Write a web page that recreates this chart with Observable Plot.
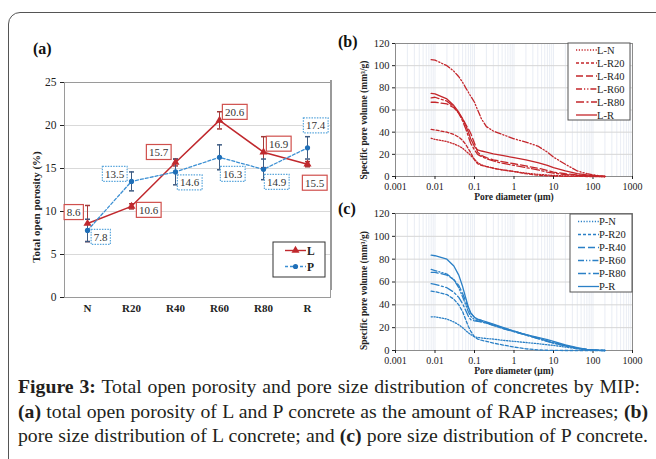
<!DOCTYPE html>
<html><head><meta charset="utf-8">
<script src="https://cdn.jsdelivr.net/npm/d3@7"></script>
<script src="https://cdn.jsdelivr.net/npm/@observablehq/plot@0.6"></script>
<style>
html,body{margin:0;padding:0;background:#fff;overflow:hidden;}
#root{position:relative;width:656px;height:459px;overflow:hidden;font-family:"Liberation Serif",serif;color:#222;}
.cap{position:absolute;left:18px;height:24px;line-height:24px;color:#231f20;text-align:justify;text-align-last:justify;white-space:nowrap;}
.panel{position:absolute;font-weight:bold;font-size:16px;color:#111;}
</style></head><body><div id="root"></div>
<script>
// ---------- data: panel (a) ----------
const categories = ["N", "R20", "R40", "R60", "R80", "R"];
const porosityL = [8.6, 10.6, 15.7, 20.6, 16.9, 15.5];
const porosityP = [7.8, 13.5, 14.6, 16.3, 14.9, 17.4];
const errorL = [2.1, 0.3, 0.4, 1.0, 1.8, 0.3];
const errorP = [1.3, 1.1, 1.5, 1.45, 1.2, 1.3];
const yTicksA = [0, 5, 10, 15, 20, 25];
const seriesA = ["L", "P"];

// ---------- data: panels (b) and (c) ----------
const diameters = [0.008, 0.01, 0.02, 0.03, 0.04, 0.05, 0.06, 0.07, 0.08, 0.1, 0.12, 0.15, 0.2, 0.3, 0.5, 1, 2, 4, 7, 10, 20, 40, 70, 100, 150, 200];
const namesL = ["L-N", "L-R20", "L-R40", "L-R60", "L-R80", "L-R"];
const curveLN   = [34.5, 33.5, 31.5, 29.5, 27.5, 25.5, 23, 21, 19, 15.5, 12.5, 10.5, 9, 7.5, 6, 4.5, 3, 2, 1.3, 1, 0.5, 0.3, 0.2, 0.1, 0, 0];
const curveLR20 = [42.5, 42, 40, 38, 35.5, 32.5, 29, 25, 21.5, 15, 11.5, 10, 9, 7.5, 6, 4.5, 2.5, 1.2, 0.6, 0.4, 0.2, 0.1, 0, 0, 0, 0];
const curveLR40 = [67, 67, 65.5, 62, 57, 52, 47, 43, 39, 30, 22, 19, 17, 15, 13.5, 11.5, 9.5, 7.5, 5.5, 4, 2.5, 1.5, 0.8, 0.5, 0.2, 0];
const curveLR60 = [105.5, 105, 100, 95, 90, 85, 80, 76, 72.5, 67, 60, 52, 45, 41, 38, 34, 31, 27.5, 22, 17.5, 11, 5, 2.5, 1.5, 0.5, 0];
const curveLR80 = [71, 71.5, 68, 63, 57, 50, 43, 36, 30, 24, 20, 18, 16, 14, 12, 10, 8, 6, 4, 3, 1.8, 1, 0.5, 0.3, 0.1, 0];
const curveLR   = [75, 74.5, 70, 64, 58, 52, 46, 40, 34, 27, 24, 23, 22, 20.5, 19, 17, 15, 12.5, 10, 8, 5, 2.5, 1.5, 1, 0.3, 0];
const namesP = ["P-N", "P-R20", "P-R40", "P-R60", "P-R80", "P-R"];
const curvePN   = [29.5, 29.5, 27.5, 25, 22.5, 20, 17.5, 15.5, 14, 12, 11.5, 11, 10.5, 10, 9, 8, 7, 6, 5, 4.5, 3, 1.5, 0.7, 0.3, 0, 0];
const curvePR20 = [52, 51.5, 49, 45, 40, 34, 27, 21, 17, 12, 10, 9, 8, 6.5, 5, 3, 1.5, 0.5, 0.2, 0.1, 0, 0, 0, 0, 0, 0];
const curvePR40 = [68.5, 68.5, 66, 62, 57, 50, 43, 37, 33, 29, 27, 26, 24.5, 22.5, 20, 17, 14, 11, 8.5, 7, 4.5, 2, 1, 0.5, 0.1, 0];
const curvePR60 = [71, 70, 67, 62, 55, 47, 40, 34, 30, 27, 26, 25, 24, 22, 19.5, 16.5, 13.5, 10.5, 8, 6.5, 4, 2, 1, 0.5, 0.1, 0];
const curvePR80 = [58.5, 58, 55, 51, 46.5, 41, 35, 30, 27, 26, 25.5, 25, 24, 22, 19.5, 16.5, 13.5, 10.5, 8, 6.5, 4, 1.8, 0.8, 0.4, 0.1, 0];
const curvePR   = [83.5, 83, 80, 74, 66, 56, 46, 38, 33, 29, 27.5, 26.5, 25, 23, 20.5, 17, 14, 11.5, 9.5, 8, 5, 2.5, 1, 0.5, 0.1, 0];
const xTicksPSD = [0.001, 0.01, 0.1, 1, 10, 100, 1000];
const yTicksPSD = [0, 20, 40, 60, 80, 100, 120];

// ---------- texts ----------
const yTitleA = "Total open porosity (%)";
const yTitlePSD = "Specific pore volume (mm\u00b3/g)";
const xTitlePSD = "Pore diameter (\u00b5m)";
const captionLines = [
  [["Figure 3:", true], [" Total open porosity and pore size distribution of concretes by MIP:", false]],
  [["(a)", true], [" total open porosity of L and P concrete as the amount of RAP increases; ", false], ["(b)", true]],
  [["pore size distribution of L concrete; and ", false], ["(c)", true], [" pore size distribution of P concrete.", false]]
];

// ---------- styles / layout ----------
const RED = "#c0282d", RED_ERR = "#a33a3a", BLUE = "#3b8fd3", BLUE_DOT = "#1f6fb8", BLUE_ERR = "#3d5b82";
const PSD_RED = "#c4262b", PSD_BLUE = "#2b80c6";
const dashes = ["1.2,1.6", "3,2", "7,3", "6,2,1.2,2,1.2,2", "8,2.5,2,2.5", null];
const offL = [[-14, -11], [17, 4], [-17, -10], [15, -8], [15, -8], [7, 19]];
const offP = [[13, 7], [-17, -7], [14, 11], [13, 17], [13, 13], [8, -22]];
const FONT = "Liberation Serif";

const root = document.getElementById("root");
function place(el, left, top) { el.style.position = "absolute"; el.style.left = left + "px"; el.style.top = top + "px"; root.appendChild(el); return el; }
function div(cls, html, left, top) { const d = document.createElement("div"); d.className = cls; d.innerHTML = html; return place(d, left, top); }

// frame border
const frame = document.createElement("div");
Object.assign(frame.style, {border: "1.5px solid #555", borderRadius: "12px", width: "720px", height: "520px", boxSizing: "border-box"});
place(frame, 8, 12);
// separator line at right of panel (a)
const sep = document.createElement("div");
Object.assign(sep.style, {width: "2px", height: "210px", background: "#9a9a9a"});
place(sep, 330, 80);

const capSymbol = {draw(ctx, size) { const r = Math.sqrt(size / Math.PI); ctx.moveTo(-r, 0); ctx.lineTo(r, 0); }};

// ---------- panel (a) ----------
const rowsL = categories.map((c, i) => ({c, v: porosityL[i], e: errorL[i]}));
const rowsP = categories.map((c, i) => ({c, v: porosityP[i], e: errorP[i]}));
const labelMarks = [];
rowsL.forEach((r, i) => labelMarks.push(Plot.text([r], {x: "c", y: "v", text: d => d.v.toFixed(1), dx: offL[i][0], dy: offL[i][1], fill: "#333", fontSize: 11, ariaDescription: "lblL"})));
rowsP.forEach((r, i) => labelMarks.push(Plot.text([r], {x: "c", y: "v", text: d => d.v.toFixed(1), dx: offP[i][0], dy: offP[i][1], fill: "#333", fontSize: 11, ariaDescription: "lblP"})));

const plotA = Plot.plot({
  width: 330, height: 260, marginLeft: 54, marginRight: 10, marginTop: 12, marginBottom: 33,
  x: {type: "point", domain: categories, padding: 0.5},
  y: {domain: [0, 25]},
  style: {fontFamily: FONT, fontSize: "11px", color: "#222", background: "transparent", overflow: "visible"},
  marks: [
    Plot.gridY(yTicksA.slice(1, -1), {stroke: "#d9d9d9", strokeOpacity: 1}),
    Plot.frame({stroke: "#9a9a9a"}),
    Plot.axisY(yTicksA, {tickSize: 4, tickPadding: 4, label: null, fontSize: 11.5}),
    Plot.axisX({tickSize: 0, tickPadding: 7, label: null, fontWeight: "bold", fontSize: 11}),
    Plot.text([yTitleA], {frameAnchor: "left", textAnchor: "middle", text: d => d, rotate: -90, dx: -28, dy: 17, fontWeight: "bold", fontSize: 11}),
    Plot.ruleX(rowsL, {x: "c", y1: d => d.v - d.e, y2: d => d.v + d.e, stroke: RED_ERR, strokeWidth: 1}),
    Plot.dot(rowsL, {x: "c", y: d => d.v + d.e, symbol: capSymbol, r: 2.5, stroke: RED_ERR, fill: "none"}),
    Plot.dot(rowsL, {x: "c", y: d => d.v - d.e, symbol: capSymbol, r: 2.5, stroke: RED_ERR, fill: "none"}),
    Plot.ruleX(rowsP, {x: "c", y1: d => d.v - d.e, y2: d => d.v + d.e, stroke: BLUE_ERR, strokeWidth: 1}),
    Plot.dot(rowsP, {x: "c", y: d => d.v + d.e, symbol: capSymbol, r: 2.5, stroke: BLUE_ERR, fill: "none"}),
    Plot.dot(rowsP, {x: "c", y: d => d.v - d.e, symbol: capSymbol, r: 2.5, stroke: BLUE_ERR, fill: "none"}),
    Plot.line(rowsL, {x: "c", y: "v", stroke: RED, strokeWidth: 1.5}),
    Plot.line(rowsP, {x: "c", y: "v", stroke: BLUE, strokeWidth: 1.3, strokeDasharray: "3,2"}),
    Plot.dot(rowsL, {x: "c", y: "v", symbol: "triangle", r: 3, fill: RED, stroke: "none"}),
    Plot.dot(rowsP, {x: "c", y: "v", symbol: "circle", r: 2.6, fill: BLUE_DOT, stroke: "none"}),
    ...labelMarks
  ]
});
place(plotA, 10, 70);

function boxLabels(svg, label, stroke, dash) {
  d3.select(svg).selectAll(`g[aria-description="${label}"] text`).each(function () {
    const b = this.getBBox();
    const r = document.createElementNS("http://www.w3.org/2000/svg", "rect");
    r.setAttribute("x", b.x - 2.5); r.setAttribute("y", b.y - 1.5);
    r.setAttribute("width", b.width + 5); r.setAttribute("height", b.height + 3);
    const t = this.getAttribute("transform"); if (t) r.setAttribute("transform", t);
    r.setAttribute("fill", "white"); r.setAttribute("stroke", stroke); r.setAttribute("stroke-width", 1.2);
    if (dash) r.setAttribute("stroke-dasharray", dash);
    this.parentNode.insertBefore(r, this);
  });
}
boxLabels(plotA, "lblL", "#d0504d", null);
boxLabels(plotA, "lblP", "#5aa6dc", "1.5,1.2");

// legend (a)
{
  const g = d3.select(plotA).append("g").attr("font-family", FONT).attr("text-anchor", "start");
  g.append("rect").attr("x", 263).attr("y", 172).attr("width", 52).attr("height", 35).attr("fill", "white").attr("stroke", "#333").attr("stroke-width", 1);
  const items = [[seriesA[0], RED, null, d3.symbolTriangle, RED, 180.5], [seriesA[1], BLUE, "3,2", d3.symbolCircle, BLUE_DOT, 196.5]];
  for (const [name, col, da, sym, fc, y] of items) {
    const l = g.append("line").attr("x1", 275).attr("x2", 296).attr("y1", y).attr("y2", y).attr("stroke", col).attr("stroke-width", 1.4);
    if (da) l.attr("stroke-dasharray", da);
    g.append("path").attr("d", d3.symbol(sym, sym === d3.symbolTriangle ? 28 : 21)()).attr("transform", `translate(285.5,${y})`).attr("fill", fc);
    g.append("text").attr("x", 297).attr("y", y).attr("dy", "0.35em").attr("font-size", 11.5).attr("font-weight", "bold").attr("fill", "#222").text(name);
  }
}

// ---------- panels (b), (c) ----------
function psdPlot(curves, names, color, opts) {
  const marks = [
    Plot.gridX({ticks: d3.range(-3, 3).flatMap(k => d3.range(1, 10).map(m => m * Math.pow(10, k))).concat([1000]), stroke: "#e3e9f1", strokeOpacity: 1, strokeWidth: 0.8}),
    Plot.gridY(yTicksPSD.slice(1), {stroke: "#d6d6d6", strokeOpacity: 1}),
    Plot.frame({stroke: "#8c8c8c"}),
    Plot.axisY(yTicksPSD, {tickSize: 3, tickPadding: 3, label: null, fontSize: 10.5}),
    Plot.axisX(xTicksPSD, {tickSize: 3, tickPadding: 3.5, label: null, fontSize: 10, tickFormat: d => String(d)}),
    Plot.text([yTitlePSD], {frameAnchor: "left", textAnchor: "middle", text: d => d, rotate: -90, dx: -32, dy: opts.yTitleDy, fontWeight: "bold", fontSize: 9.5}),
    Plot.text([xTitlePSD], {frameAnchor: "bottom", textAnchor: "middle", text: d => d, dy: 23.5, fontWeight: "bold", fontSize: 9.5}),
    ...curves.map((vals, k) => Plot.line(diameters.map((d, i) => ({d, v: vals[i]})),
      {x: "d", y: "v", stroke: color, strokeWidth: 1.3, strokeDasharray: dashes[k] || undefined}))
  ];
  const svg = Plot.plot({
    width: 326, height: opts.height, marginLeft: 65, marginRight: 24, marginTop: opts.marginTop, marginBottom: opts.marginBottom,
    x: {type: "log", domain: [0.001, 1000]},
    y: {domain: [0, 120]},
    style: {fontFamily: FONT, fontSize: "10.5px", color: "#222", background: "transparent", overflow: "visible"},
    marks
  });
  place(svg, 330, opts.top);
  // legend
  const g = d3.select(svg).append("g").attr("font-family", FONT).attr("text-anchor", "start");
  const L = opts.legend;
  g.append("rect").attr("x", L.x).attr("y", L.y).attr("width", 62).attr("height", L.h).attr("fill", "white").attr("stroke", "#555").attr("stroke-width", 1);
  names.forEach((n, k) => {
    const y = L.first + k * L.step;
    const l = g.append("line").attr("x1", L.x + 8).attr("x2", L.x + 29).attr("y1", y).attr("y2", y).attr("stroke", color).attr("stroke-width", 1.3);
    if (dashes[k]) l.attr("stroke-dasharray", dashes[k]);
    g.append("text").attr("x", L.x + 29).attr("y", y).attr("dy", "0.35em").attr("font-size", 10.5).attr("fill", "#222").text(n);
  });
  return svg;
}
psdPlot([curveLN, curveLR20, curveLR40, curveLR60, curveLR80, curveLR], namesL, PSD_RED,
  {top: 35, height: 170, marginTop: 8, marginBottom: 29, yTitleDy: 10, legend: {x: 238, y: 8, h: 77, first: 15, step: 13}});
psdPlot([curvePN, curvePR20, curvePR40, curvePR60, curvePR80, curvePR], namesP, PSD_BLUE,
  {top: 203, height: 180, marginTop: 10, marginBottom: 33, yTitleDy: 8.5, legend: {x: 240, y: 11, h: 78, first: 18.5, step: 13}});

// panel labels
div("panel", "(a)", 33, 40);
div("panel", "(b)", 338, 33);
div("panel", "(c)", 338, 200);

// caption: pick a common font size so the lines nearly fill their widths, then justify
const capWidths = [622, 630, 630];
const capHtml = captionLines.map(parts => parts.map(([t, b]) => b ? `<b>${t}</b>` : t).join(""));
const probe = document.createElement("span");
Object.assign(probe.style, {position: "absolute", visibility: "hidden", whiteSpace: "nowrap", fontSize: "18px", fontFamily: FONT});
root.appendChild(probe);
let scale = Infinity;
capHtml.forEach((h, i) => { probe.innerHTML = h; scale = Math.min(scale, capWidths[i] / probe.getBoundingClientRect().width); });
probe.remove();
const capSize = Math.min(20, 18 * scale * 0.995);
capHtml.forEach((h, i) => {
  const d = div("cap", h, 18, 374 + i * 24.5);
  d.style.width = capWidths[i] + "px";
  d.style.fontSize = capSize + "px";
});
</script></body></html>
